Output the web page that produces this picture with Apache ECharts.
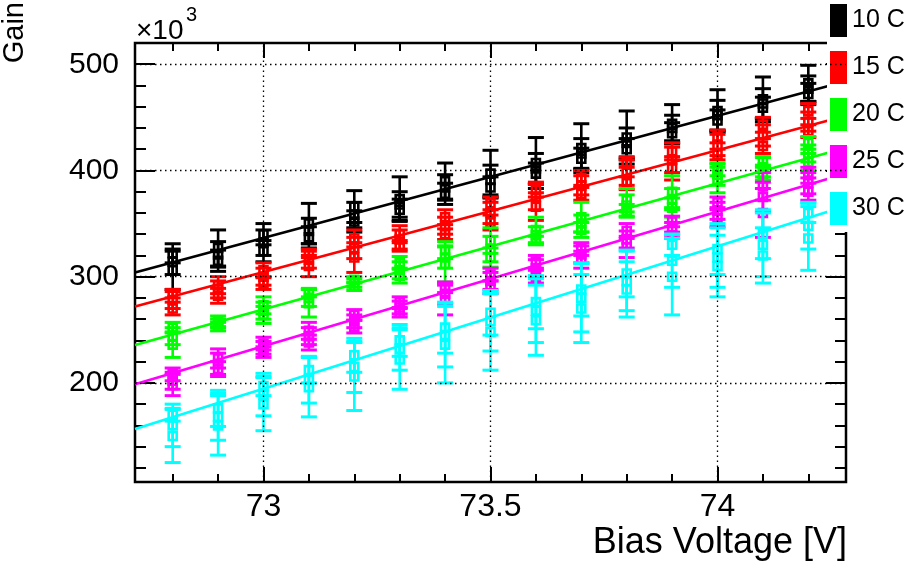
<!DOCTYPE html>
<html><head><meta charset="utf-8">
<script src="https://cdn.jsdelivr.net/npm/echarts@6/dist/echarts.min.js"></script>
<style>html,body{margin:0;padding:0;background:#fff}#c{width:914px;height:570px}</style>
</head><body><div id="c"></div>
<script>
// ---- data ----
const voltages = [72.8, 72.9, 73.0, 73.1, 73.2, 73.3, 73.4, 73.5, 73.6, 73.7, 73.8, 73.9, 74.0, 74.1, 74.2];
const temps = ['10 C', '15 C', '20 C', '25 C', '30 C'];
const colors = ['#000000', '#ff0000', '#00ff00', '#ff00ff', '#00ffff'];

// gain (x10^3), three measurements per voltage, and their errors
const gain10 = [[322,314,306],[327,321,315],[340,332,324],[350,343,337],[366,358,352],[373,368,363],[390,384,378],[397,391,384],[407,402,397],[421,416,411],[431,426,420],[444,440,435],[456,452,447],[467,463,459],[482,477,472]];
const err10  = [[9,12,18],[17,12,10],[10,12,10],[19,12,10],[15,12,10],[21,12,10],[17,12,10],[22,14,10],[24,14,10],[23,14,10],[25,14,10],[18,12,10],[20,14,10],[21,14,10],[17,12,10]];

const gain15 = [[284,278,270],[292,288,282],[306,300,294],[322,316,310],[336,327,318],[340,335,329],[356,348,340],[369,360,351],[382,375,366],[393,386,378],[408,398,388],[418,410,402],[432,424,415],[443,433,423],[456,446,437]];
const err15  = [[4,8,6],[8,8,7],[7,8,6],[4,8,10],[8,10,14],[8,9,5],[7,8,5],[6,10,7],[7,12,13],[7,9,6],[5,12,6],[8,12,11],[6,10,5],[7,10,7],[7,9,6]];

const gain20 = [[252,244,236],[258,256,253],[273,268,264],[285,280,275],[297,294,291],[313,306,301],[325,318,312],[334,326,318],[344,339,334],[356,350,344],[372,367,362],[380,373,365],[401,396,391],[409,403,397],[426,416,408]];
const err20  = [[5,8,12],[5,4,4],[8,8,8],[4,8,13],[3,4,4],[6,8,7],[8,10,17],[12,12,9],[12,8,4],[14,8,7],[11,10,6],[15,10,9],[6,10,12],[4,9,6],[6,8,8]];

const gain25 = [[208,202,198],[223,218,213],[237,233,229],[249,244,238],[264,258,253],[276,271,266],[290,284,278],[302,296,290],[314,308,300],[326,321,316],[343,335,328],[352,345,339],[370,362,355],[385,375,360],[398,388,380]];
const err25  = [[6,8,10],[9,10,7],[6,6,5],[8,8,7],[5,6,6],[5,6,4],[5,10,14],[6,8,6],[6,8,6],[6,8,8],[7,8,10],[5,6,3],[5,8,8],[13,14,23],[5,10,8]];

const gain30 = [[170,160,150],[176,168,160],[197,189,180],[212,203,196],[226,215,206],[240,232,222],[252,245,236],[266,258,248],[276,268,259],[288,280,270],[303,296,288],[330,315,300],[326,318,310],[340,330,320],[360,348,336]];
const err30  = [[6,20,25],[17,22,28],[9,20,25],[12,22,28],[16,24,32],[15,20,28],[24,30,36],[21,28,36],[25,30,33],[25,32,32],[22,28,26],[10,25,36],[24,28,29],[23,30,26],[9,22,30]];

// linear fit lines: values at the two ends of the voltage axis
const fitX = [72.717, 74.283];
const fit10 = [304, 484];
const fit15 = [272, 451.5];
const fit20 = [235.7, 421.3];
const fit25 = [198.8, 397.2];
const fit30 = [156.7, 366.5];

// axes
const xRange = [72.717, 74.283];
const yRange = [106.7, 520];
const xMajorTicks = [73, 73.5, 74];
const xMinorTicks = [72.8, 72.9, 73.1, 73.2, 73.3, 73.4, 73.6, 73.7, 73.8, 73.9, 74.1, 74.2];
const yMajorTicks = [200, 300, 400, 500];
const yMinorTicks = [120, 140, 160, 180, 220, 240, 260, 280, 320, 340, 360, 380, 420, 440, 460, 480];

// ---- chart ----
const FONT = '"Liberation Sans", Arial, Helvetica, sans-serif';
const gains = [gain10, gain15, gain20, gain25, gain30];
const errs = [err10, err15, err20, err25, err30];
const fits = [fit10, fit15, fit20, fit25, fit30];

function renderErr(params, api) {
  const x = api.value(0), y = api.value(1), e = api.value(2);
  const c = api.coord([x, y]), t = api.coord([x, y + e]), b = api.coord([x, y - e]);
  const col = api.visual('color');
  const hw = 8, ms = 4;
  return {type: 'group', children: [
    {type: 'line', shape: {x1: c[0], y1: t[1], x2: c[0], y2: b[1]}, style: {stroke: col, lineWidth: 2.6}},
    {type: 'line', shape: {x1: c[0] - hw, y1: t[1], x2: c[0] + hw, y2: t[1]}, style: {stroke: col, lineWidth: 3}},
    {type: 'line', shape: {x1: c[0] - hw, y1: b[1], x2: c[0] + hw, y2: b[1]}, style: {stroke: col, lineWidth: 3}},
    {type: 'rect', shape: {x: c[0] - ms, y: c[1] - ms, width: 2 * ms, height: 2 * ms}, style: {fill: 'none', stroke: col, lineWidth: 2.6}}
  ]};
}

function xAx(pos, ticks, len, labels) {
  return {
    type: 'value', position: pos, min: xRange[0], max: xRange[1],
    axisLine: {show: false, onZero: false}, splitLine: {show: false},
    axisTick: {show: true, inside: true, length: len, customValues: ticks, lineStyle: {color: '#000', width: 2}},
    axisLabel: labels ? {show: true, customValues: labels, fontSize: 32, color: '#000', fontFamily: FONT, margin: 9} : {show: false}
  };
}
function yAx(pos, ticks, len, labels) {
  return {
    type: 'value', position: pos, min: yRange[0], max: yRange[1],
    axisLine: {show: false, onZero: false}, splitLine: {show: false},
    axisTick: {show: true, inside: true, length: len, customValues: ticks, lineStyle: {color: '#000', width: 2}},
    axisLabel: labels ? {show: true, customValues: labels, fontSize: 30, color: '#000', fontFamily: FONT, margin: 16} : {show: false}
  };
}

const series = [{
  type: 'line', name: 'grid', data: [], z: 1, silent: true,
  markLine: {
    silent: true, symbol: ['none', 'none'], label: {show: false}, animation: false,
    lineStyle: {color: '#000', type: [1.5, 3.5], width: 1.3},
    emphasis: {disabled: true},
    data: xMajorTicks.map(v => ({xAxis: v})).concat(yMajorTicks.map(v => ({yAxis: v})))
  }
}];
temps.forEach((t, i) => {
  const pts = [];
  voltages.forEach((v, j) => {
    for (let k = 0; k < gains[i][j].length; k++) pts.push([v, gains[i][j][k], errs[i][j][k]]);
  });
  series.push({
    type: 'custom', name: t, renderItem: renderErr, data: pts,
    encode: {x: 0, y: 1}, itemStyle: {color: colors[i]}, z: 3, silent: true
  });
  series.push({
    type: 'line', name: 'fit ' + t, data: [[fitX[0], fits[i][0]], [fitX[1], fits[i][1]]],
    symbol: 'none', showSymbol: false, silent: true, z: 3,
    lineStyle: {color: colors[i], width: 2.6}, itemStyle: {color: colors[i]}
  });
});

const chart = echarts.init(document.getElementById('c'), null, {renderer: 'canvas'});
chart.setOption({
  animation: false,
  backgroundColor: '#fff',
  textStyle: {fontFamily: FONT},
  grid: {left: 135, right: 68, top: 43, bottom: 88, show: true, borderColor: '#000', borderWidth: 2.5, backgroundColor: 'transparent'},
  xAxis: [
    xAx('bottom', xMajorTicks, 15, xMajorTicks),
    xAx('bottom', xMinorTicks, 8, null),
    xAx('top', xMajorTicks, 15, null),
    xAx('top', xMinorTicks, 8, null)
  ],
  yAxis: [
    yAx('left', yMajorTicks, 20, yMajorTicks),
    yAx('left', yMinorTicks, 11, null),
    yAx('right', yMajorTicks, 20, null),
    yAx('right', yMinorTicks, 11, null)
  ],
  legend: {
    data: temps, orient: 'vertical', left: 827, top: 0,
    padding: [4, 80, 7, 3], itemWidth: 17, itemHeight: 33, itemGap: 14,
    icon: 'rect', backgroundColor: '#fff', selectedMode: false,
    textStyle: {fontSize: 25, color: '#000', fontFamily: FONT}
  },
  graphic: [
    {type: 'text', x: 15, y: 2, rotation: Math.PI / 2, style: {text: 'Gain', fontSize: 29, fontFamily: FONT, fill: '#000', align: 'right', verticalAlign: 'middle'}},
    {type: 'text', x: 136, y: 31, style: {text: '×10', fontSize: 28, fontFamily: FONT, fill: '#000', align: 'left', verticalAlign: 'middle'}},
    {type: 'text', x: 186, y: 15, style: {text: '3', fontSize: 20, fontFamily: FONT, fill: '#000', align: 'left', verticalAlign: 'middle'}},
    {type: 'text', x: 847, y: 543, style: {text: 'Bias Voltage [V]', fontSize: 36, fontFamily: FONT, fill: '#000', align: 'right', verticalAlign: 'middle'}}
  ],
  series: series
});
</script>
</body></html>
